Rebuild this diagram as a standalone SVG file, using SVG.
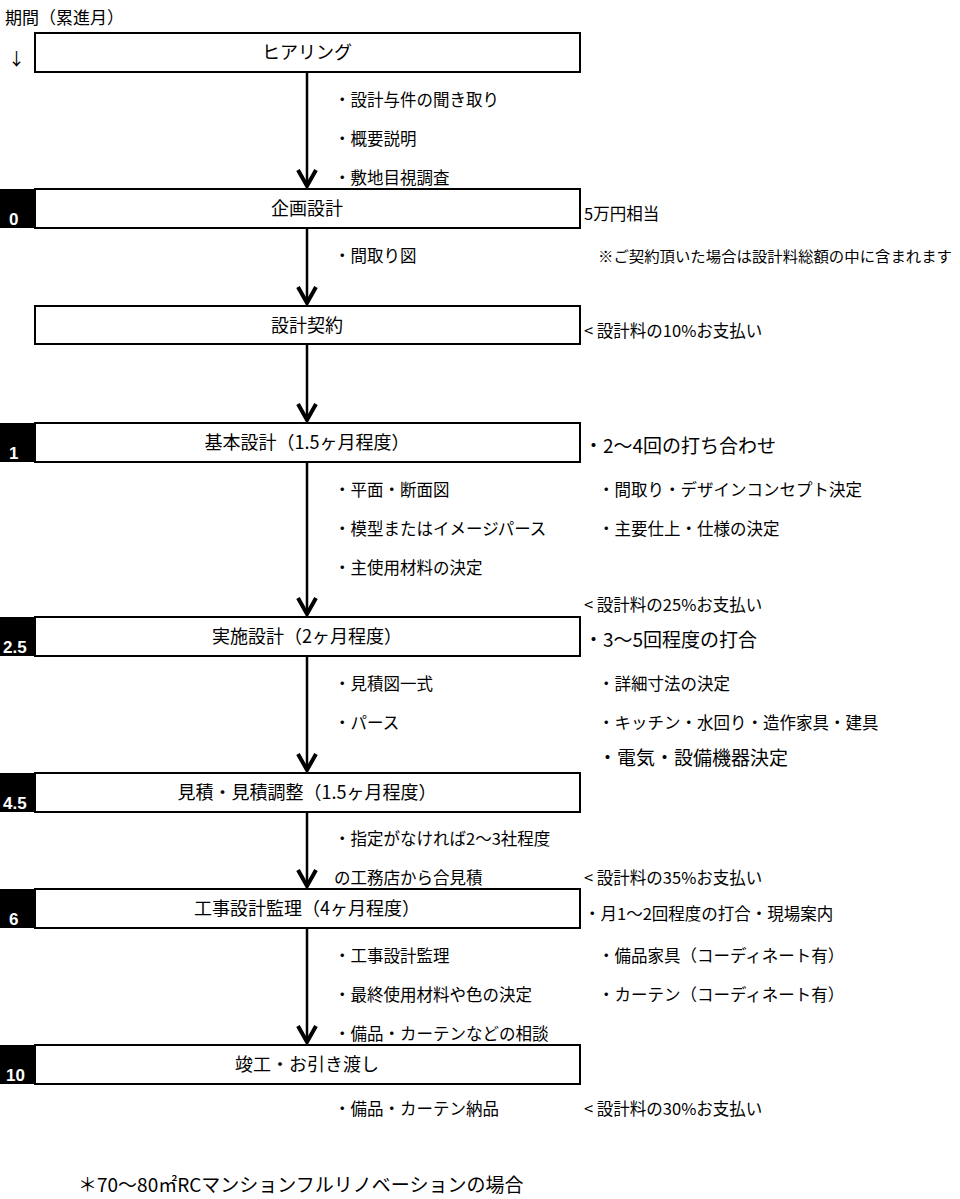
<svg xmlns="http://www.w3.org/2000/svg" width="960" height="1199" viewBox="0 0 960 1199">
<style>
text{font-family:"Noto Sans CJK JP","Liberation Sans",sans-serif;fill:#000}
.box{fill:#fff;stroke:#000;stroke-width:2}
.t{font-size:18px;text-anchor:middle}
.n{font-size:16.5px}
.big{font-size:19px}
.lb{fill:#000}
.lt{fill:#fff;font-family:"Liberation Sans",sans-serif;font-weight:bold;font-size:17px}
.ar{stroke:#000;stroke-width:2.5;fill:none}
.hd{stroke:#000;stroke-width:4;fill:none}
</style>
<text x="5" y="24" style="font-size:17px">期間（累進月）</text>
<text x="8" y="65" style="font-size:17px">↓</text>
<g id="connectors">
<line class="ar" x1="307" y1="72" x2="307" y2="186"/><polyline class="hd" points="298,170 307,186 316,170"/>
<line class="ar" x1="307" y1="228" x2="307" y2="303"/><polyline class="hd" points="298,287 307,303 316,287"/>
<line class="ar" x1="307" y1="344" x2="307" y2="420"/><polyline class="hd" points="298,404 307,420 316,404"/>
<line class="ar" x1="307" y1="462" x2="307" y2="614"/><polyline class="hd" points="298,598 307,614 316,598"/>
<line class="ar" x1="307" y1="656" x2="307" y2="770"/><polyline class="hd" points="298,754 307,770 316,754"/>
<line class="ar" x1="307" y1="812" x2="307" y2="886"/><polyline class="hd" points="298,870 307,886 316,870"/>
<line class="ar" x1="307" y1="928" x2="307" y2="1042"/><polyline class="hd" points="298,1026 307,1042 316,1026"/>
</g>
<g id="hearing"><rect class="box" x="35" y="33" width="545" height="39"/><text class="t" x="307" y="59">ヒアリング</text></g>
<g id="kikaku"><rect class="lb" x="0" y="189" width="35" height="39"/><text class="lt" x="9" y="225">0</text><rect class="box" x="35" y="189" width="545" height="39"/><text class="t" x="307" y="215">企画設計</text></g>
<g id="keiyaku"><rect class="box" x="35" y="306" width="545" height="38"/><text class="t" x="307" y="332">設計契約</text></g>
<g id="kihon"><rect class="lb" x="0" y="423" width="35" height="39"/><text class="lt" x="9" y="459">1</text><rect class="box" x="35" y="423" width="545" height="39"/><text class="t" x="307" y="449">基本設計（1.5ヶ月程度）</text></g>
<g id="jisshi"><rect class="lb" x="0" y="617" width="35" height="39"/><text class="lt" x="3" y="653">2.5</text><rect class="box" x="35" y="617" width="545" height="39"/><text class="t" x="307" y="643">実施設計（2ヶ月程度）</text></g>
<g id="mitsumori"><rect class="lb" x="0" y="773" width="35" height="39"/><text class="lt" x="3" y="809">4.5</text><rect class="box" x="35" y="773" width="545" height="39"/><text class="t" x="307" y="799">見積・見積調整（1.5ヶ月程度）</text></g>
<g id="kanri"><rect class="lb" x="0" y="889" width="35" height="39"/><text class="lt" x="9" y="925">6</text><rect class="box" x="35" y="889" width="545" height="39"/><text class="t" x="307" y="915">工事設計監理（4ヶ月程度）</text></g>
<g id="shunko"><rect class="lb" x="0" y="1045" width="35" height="39"/><text class="lt" x="6" y="1081">10</text><rect class="box" x="35" y="1045" width="545" height="39"/><text class="t" x="307" y="1071">竣工・お引き渡し</text></g>
<g class="n">
<text x="334" y="106">・設計与件の聞き取り</text>
<text x="334" y="145">・概要説明</text>
<text x="334" y="184">・敷地目視調査</text>
<text x="584" y="220">5万円相当</text>
<text x="334" y="262">・間取り図</text>
<text x="598" y="262" style="font-size:14.5px" textLength="354" lengthAdjust="spacingAndGlyphs">※ご契約頂いた場合は設計料総額の中に含まれます</text>
<text x="584" y="337">&lt; 設計料の10%お支払い</text>
<text x="584" y="453" class="big">・2〜4回の打ち合わせ</text>
<text x="334" y="496">・平面・断面図</text>
<text x="598" y="496">・間取り・デザインコンセプト決定</text>
<text x="334" y="535">・模型またはイメージパース</text>
<text x="598" y="535">・主要仕上・仕様の決定</text>
<text x="334" y="574">・主使用材料の決定</text>
<text x="584" y="611">&lt; 設計料の25%お支払い</text>
<text x="584" y="647" class="big">・3〜5回程度の打合</text>
<text x="334" y="690">・見積図一式</text>
<text x="598" y="690">・詳細寸法の決定</text>
<text x="334" y="729">・パース</text>
<text x="598" y="729">・キッチン・水回り・造作家具・建具</text>
<text x="598" y="765" class="big">・電気・設備機器決定</text>
<text x="334" y="845">・指定がなければ2〜3社程度</text>
<text x="334" y="884">の工務店から合見積</text>
<text x="584" y="884">&lt; 設計料の35%お支払い</text>
<text x="584" y="920">・月1〜2回程度の打合・現場案内</text>
<text x="598" y="962">・備品家具（コーディネート有）</text>
<text x="334" y="962">・工事設計監理</text>
<text x="334" y="1001">・最終使用材料や色の決定</text>
<text x="598" y="1001">・カーテン（コーディネート有）</text>
<text x="334" y="1040">・備品・カーテンなどの相談</text>
<text x="334" y="1115">・備品・カーテン納品</text>
<text x="584" y="1115">&lt; 設計料の30%お支払い</text>
<text x="78" y="1192" class="big">＊70〜80㎡RCマンションフルリノベーションの場合</text>
</g>
</svg>
